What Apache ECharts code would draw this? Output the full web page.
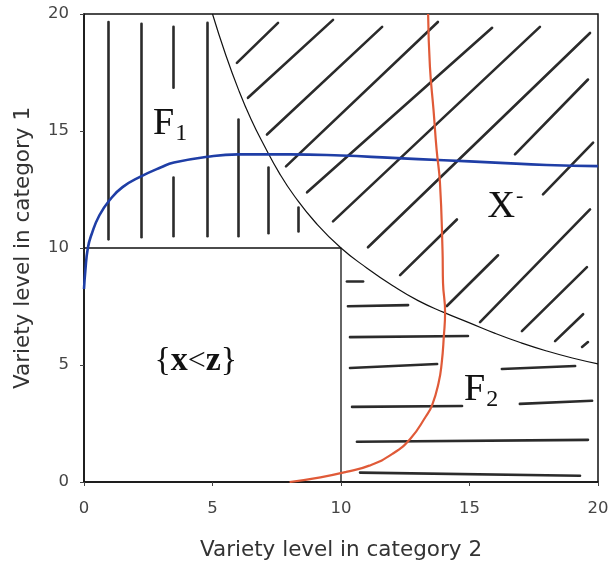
<!DOCTYPE html>
<html>
<head>
<meta charset="utf-8">
<script src="https://cdn.jsdelivr.net/npm/echarts@6/dist/echarts.min.js"></script>
<style>html,body{margin:0;padding:0;background:#fff}#c{width:613px;height:566px}</style>
</head>
<body>
<div id="c"></div>
<script>
// axis ticks
var xTicks = [0, 5, 10, 15, 20];
var yTicks = [0, 5, 10, 15, 20];

// boundary curve between X- and F1/F2
var boundaryCurve = [[5.0,20],[5.5,18.3],[6,16.8],[6.5,15.5],[7,14.4],[7.6,13.2],[8.2,12.2],[9,11.1],[10,10.0],[11,9.15],[12,8.4],[13,7.75],[14,7.25],[15,6.8],[16,6.35],[17,5.95],[18,5.6],[19,5.3],[20,5.05]];

// box {x<z}
var boxLine = [[0,10],[10,10],[10,0]];

// blue curve
var blueCurve = [[0,8.25],[0.05,9.0],[0.15,10.0],[0.3,10.6],[0.6,11.4],[1.0,12.05],[1.5,12.6],[2.2,13.05],[3.0,13.45],[3.5,13.65],[4.8,13.9],[6,14.0],[8,14.0],[10,13.95],[12,13.85],[14,13.75],[16,13.65],[18,13.55],[20,13.5]];

// red curve
var redCurve = [[8.0,0],[9.2,0.2],[10.2,0.43],[11.1,0.7],[12.0,1.2],[12.7,1.85],[13.3,2.8],[13.55,3.3],[13.8,4.25],[13.92,5.1],[14.0,6.2],[14.05,7.25],[13.97,8.5],[13.95,9.9],[13.85,12.8],[13.72,14.2],[13.6,15.9],[13.46,17.75],[13.39,20]];

// hatch strokes: vertical (F1), diagonal (X-), horizontal (F2)
var hatchF1 = [
  [[0.93,19.66],[0.93,10.37]],
  [[2.22,19.58],[2.22,10.46]],
  [[3.46,19.45],[3.46,16.85]],
  [[3.46,13.01],[3.46,10.5]],
  [[4.79,19.62],[4.79,10.5]],
  [[5.99,15.49],[5.99,10.5]],
  [[7.16,13.44],[7.16,10.63]],
  [[8.33,11.73],[8.33,10.71]]
];
var hatchX = [
  [[5.95,17.91],[7.55,19.62]],
  [[6.38,16.42],[9.69,19.75]],
  [[7.12,14.85],[11.6,19.45]],
  [[7.86,13.49],[13.77,19.66]],
  [[8.68,12.38],[15.88,19.41]],
  [[9.69,11.14],[17.74,19.45]],
  [[11.05,10.03],[19.69,19.19]],
  [[16.77,14.0],[19.61,17.2]],
  [[17.86,12.29],[19.81,14.5]],
  [[12.3,8.84],[14.51,11.22]],
  [[14.12,7.52],[16.11,9.69]],
  [[15.41,6.83],[19.69,11.65]],
  [[17.04,6.45],[19.57,9.18]],
  [[18.33,6.02],[19.42,7.17]],
  [[19.38,5.77],[19.61,5.98]]
];
var hatchF2 = [
  [[10.23,8.58],[10.86,8.58]],
  [[10.27,7.51],[12.61,7.56]],
  [[10.35,6.19],[14.94,6.24]],
  [[10.35,4.87],[13.74,5.04]],
  [[16.26,4.83],[19.11,4.96]],
  [[10.43,3.21],[14.71,3.25]],
  [[16.96,3.34],[19.77,3.47]],
  [[10.62,1.72],[19.61,1.8]],
  [[10.74,0.4],[19.3,0.27]]
];

// region labels
var regionNames = ['F1', 'X-', 'F2', 'xz'];
var regionPos = [[3.35,15.3],[16.4,11.75],[15.45,3.95],[4.35,5.15]];

var serif = 'Liberation Serif';
var sans = 'DejaVu Sans';
var ink = '#111';

function segData(arr){ return arr.map(function(s){ return {coords: s}; }); }

var richStyles = {
  big: {fontFamily: serif, fontSize: 38, color: ink, lineHeight: 44, textBorderColor: ink, textBorderWidth: 0.2},
  sub: {fontFamily: serif, fontSize: 24, color: ink, verticalAlign: 'bottom', lineHeight: 44, padding:[0,0,0,1]},
  sup: {fontFamily: serif, fontSize: 22, color: ink, verticalAlign: 'top', lineHeight: 44, padding:[0,0,0,1]},
  br:  {fontFamily: serif, fontSize: 34, color: ink, lineHeight: 40},
  bx:  {fontFamily: serif, fontSize: 34, fontWeight: 'bold', color: ink, lineHeight: 40},
  lt:  {fontFamily: serif, fontSize: 32, color: ink, lineHeight: 40}
};
var labelText = {
  'F1': '{big|F}{sub|1}',
  'X-': '{big|X}{sup|-}',
  'F2': '{big|F}{sub|2}',
  'xz': '{br|{}{bx|x}{lt|<}{bx|z}}'
};

var chart = echarts.init(document.getElementById('c'), null, {renderer: 'canvas'});
var hatchStyle = {color: '#2b2b2b', width: 2.6, cap: 'round', opacity: 1};

chart.setOption({
  animation: false,
  backgroundColor: '#fff',
  grid: {left: 84, right: 15, top: 14, bottom: 83, show: true, borderColor: '#111', borderWidth: 1.5, backgroundColor: 'transparent'},
  xAxis: {
    type: 'value', min: xTicks[0], max: xTicks[xTicks.length-1], interval: 5,
    name: 'Variety level in category 2', nameLocation: 'middle', nameGap: 57,
    nameTextStyle: {fontFamily: sans, fontSize: 21.5, color: '#333'},
    axisLine: {show: true, lineStyle: {color: '#111', width: 1.5}},
    axisTick: {show: true, inside: false, length: 4, lineStyle: {color: '#444'}},
    axisLabel: {fontFamily: sans, fontSize: 16.5, color: '#444', margin: 18},
    splitLine: {show: false}
  },
  yAxis: {
    type: 'value', min: yTicks[0], max: yTicks[yTicks.length-1], interval: 5,
    name: 'Variety level in category 1', nameLocation: 'middle', nameGap: 50,
    nameTextStyle: {fontFamily: sans, fontSize: 21.5, color: '#333'},
    axisLine: {show: true, lineStyle: {color: '#111', width: 1.5}},
    axisTick: {show: true, inside: false, length: 4, lineStyle: {color: '#444'}},
    axisLabel: {fontFamily: sans, fontSize: 16.5, color: '#444', margin: 15},
    splitLine: {show: false}
  },
  series: [
    {type: 'lines', coordinateSystem: 'cartesian2d', data: segData(hatchF1), lineStyle: hatchStyle, z: 2, silent: true},
    {type: 'lines', coordinateSystem: 'cartesian2d', data: segData(hatchX), lineStyle: hatchStyle, z: 2, silent: true},
    {type: 'lines', coordinateSystem: 'cartesian2d', data: segData(hatchF2), lineStyle: hatchStyle, z: 2, silent: true},
    {type: 'line', data: boundaryCurve, smooth: true, showSymbol: false, symbol: 'none', lineStyle: {color: '#111', width: 1.2}, z: 3},
    {type: 'line', data: boxLine, showSymbol: false, symbol: 'none', lineStyle: {color: '#111', width: 1.3}, z: 3},
    {type: 'line', data: blueCurve, smooth: true, showSymbol: false, symbol: 'none', lineStyle: {color: '#1f3ea6', width: 2.6}, z: 4},
    {type: 'line', data: redCurve, smooth: true, showSymbol: false, symbol: 'none', lineStyle: {color: '#e05a38', width: 2.2}, z: 5},
    {type: 'scatter', symbolSize: 0, z: 6, silent: true, itemStyle: {opacity: 1},
     data: regionNames.map(function(n, i){
       return {value: regionPos[i], label: {show: true, position: 'inside', formatter: labelText[n], rich: richStyles,
         fontFamily: serif, fontSize: 34, color: ink, lineHeight: 40, opacity: 1}};
     })
    }
  ]
});
</script>
</body>
</html>
